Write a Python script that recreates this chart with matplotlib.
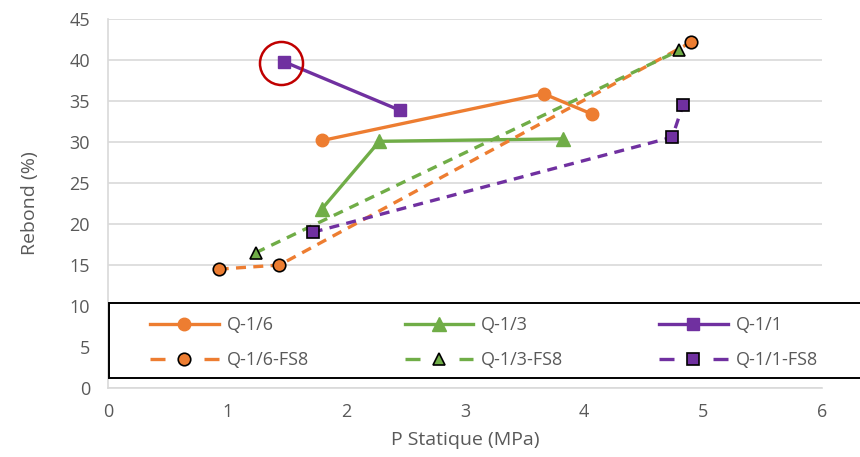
import matplotlib
matplotlib.use("Agg")
import matplotlib.pyplot as plt
from matplotlib.lines import Line2D
from matplotlib.patches import Rectangle

# ============================== Data

q16_x = [1.80, 3.66, 4.07]
q16_y = [30.2, 35.9, 33.4]

q13_x = [1.80, 2.28, 3.82]
q13_y = [21.9, 30.1, 30.4]

q11_x = [1.48, 2.45]
q11_y = [39.8, 33.9]

q16fs_x = [0.93, 1.44, 4.90]
q16fs_y = [14.5, 15.0, 42.2]

q13fs_x = [1.24, 4.80]
q13fs_y = [16.5, 41.2]

q11fs_x = [1.72, 4.74, 4.83]
q11fs_y = [19.0, 30.6, 34.5]

highlight = (1.45, 39.7)

ORANGE = "#ED7D31"
GREEN = "#70AD47"
PURPLE = "#7030A0"
TXT = "#595959"

plt.rcParams["font.family"] = ["Open Sans", "DejaVu Sans"]

fig = plt.figure(figsize=(8.6, 4.57), dpi=100)
ax = fig.add_axes([0.1256, 0.151, 0.8304, 0.807])

lw = 2.4
dash = (3, 2.2)
h16, = ax.plot(q16_x, q16_y, color=ORANGE, lw=lw, marker="o", ms=9, label="Q-1/6")
h13, = ax.plot(q13_x, q13_y, color=GREEN, lw=lw, marker="^", ms=10, label="Q-1/3")
h11, = ax.plot(q11_x, q11_y, color=PURPLE, lw=lw, marker="s", ms=9, label="Q-1/1")
ax.plot(q16fs_x, q16fs_y, color=ORANGE, lw=lw, ls=(0, dash), marker="o", ms=9,
        mec="black", mew=1.2)
ax.plot(q13fs_x, q13fs_y, color=GREEN, lw=lw, ls=(0, dash), marker="^", ms=9,
        mec="black", mew=1.2)
ax.plot(q11fs_x, q11fs_y, color=PURPLE, lw=lw, ls=(0, dash), marker="s", ms=9,
        mec="black", mew=1.2)

# cercle rouge autour du point
ax.plot([highlight[0]], [highlight[1]], marker="o", ms=31, mfc="none",
        mec="#C00000", mew=1.8, ls="none")

ax.set_xlim(0, 6)
ax.set_ylim(0, 45)
ax.set_xticks(range(0, 7))
ax.set_yticks(range(0, 46, 5))
ax.grid(axis="y", color="#D9D9D9", lw=1.2)
ax.set_axisbelow(True)
for s in ["top", "right"]:
    ax.spines[s].set_visible(False)
for s in ["left", "bottom"]:
    ax.spines[s].set_color("#D9D9D9")
    ax.spines[s].set_linewidth(1.2)
ax.tick_params(length=0, labelsize=13, colors=TXT)
ax.tick_params(axis="x", pad=11)
ax.tick_params(axis="y", pad=13)
ax.set_xlabel("P Statique (MPa)", fontsize=14, color=TXT, labelpad=7)
ax.set_ylabel("Rebond (%)", fontsize=14, color=TXT, labelpad=22)

# cadre de la légende (déborde à droite comme dans l'original)
fig.patches.append(Rectangle((0.1267, 0.1729), 0.9, 0.164, transform=fig.transFigure,
                             fill=True, facecolor="white", edgecolor="black",
                             lw=1.4, zorder=5))

# poignées de légende style Excel : "- o -"
leg_dash = (0, (4.5, 11.7))
p16f = Line2D([], [], color=ORANGE, lw=lw, ls=leg_dash, marker="o", ms=9,
              mec="black", mew=1.2, label="Q-1/6-FS8")
p13f = Line2D([], [], color=GREEN, lw=lw, ls=leg_dash, marker="^", ms=9,
              mec="black", mew=1.2, label="Q-1/3-FS8")
p11f = Line2D([], [], color=PURPLE, lw=lw, ls=leg_dash, marker="s", ms=9,
              mec="black", mew=1.2, label="Q-1/1-FS8")

handles = [h16, p16f, h13, p13f, h11, p11f]
leg = fig.legend(handles=handles, labels=[h.get_label() for h in handles],
                 ncol=3, loc="center left", bbox_to_anchor=(0.1744, 0.2505),
                 frameon=False, fontsize=13, handlelength=3.8,
                 columnspacing=5.3, borderpad=0, labelspacing=0.95,
                 handletextpad=0.45, borderaxespad=0)
leg.set_zorder(6)
for t in leg.get_texts():
    t.set_color(TXT)

fig.savefig("out.png", dpi=100)
